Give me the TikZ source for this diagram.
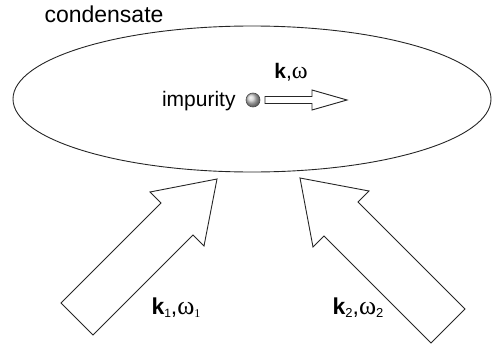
\documentclass[tikz,border=0pt]{standalone}
\usepackage{fontspec}
\setmainfont{Liberation Sans}
\newfontfamily\grfont{Liberation Serif}
\newcommand{\om}{{\grfont ω}}
\begin{document}
\begin{tikzpicture}[
    x=0.5pt,y=-0.5pt,
    line width=0.45pt,
    txt/.style={font=\fontsize{10.5}{12}\selectfont,inner sep=0pt},
    bigtxt/.style={font=\fontsize{11.5}{13}\selectfont,inner sep=0pt},
    blockarrow/.style={draw=black!85,fill=white,line join=miter},
    ball/.style={circle,draw=gray!60!black,line width=0.3pt,shading=ball,ball color=gray!40,minimum size=7pt,inner sep=0pt}
]
\useasboundingbox (0,0) rectangle (492,348);
% Condensate
\node[bigtxt] (cond) at (104,14) {condensate};
\draw[black!85] (252,99) ellipse [x radius=239,y radius=73];

% Impurity and its motion
\node[ball] (imp) at (253,100) {};
\node[txt,anchor=base east] (implbl) at (236,106) {impurity};
\coordinate (tail0) at (265,100);
\draw[blockarrow] (tail0) ++(0,-3.5) -- (312,96.5) -- (312,90) -- (347,100)
    -- (312,110) -- (312,103.5) -- ++(-47,0) -- cycle;
\node[txt,anchor=base] (kw) at (291,78) {\textbf{k},{\fontsize{12}{12}\selectfont\om}};

% Incoming beams
\draw[blockarrow] (61,303) -- (161,203) -- (150,192) -- (217,179)
    -- (204,246) -- (193,235) -- (93,335) -- cycle;
\draw[blockarrow] (465,309) -- (358,202) -- (369,191) -- (300,178)
    -- (313,247) -- (324,236) -- (431,343) -- cycle;
\node[bigtxt,anchor=base] (kw1) at (176,314) {\textbf{k}\raisebox{-1.5pt}{\fontsize{6}{6}\selectfont 1},{\fontsize{13}{13}\selectfont\om}\raisebox{-1.5pt}{\fontsize{6}{6}\selectfont\grfont 1}};
\node[bigtxt,anchor=base] (kw2) at (358,314) {\textbf{k}\raisebox{-1.5pt}{\fontsize{6.5}{6}\selectfont 2},{\fontsize{13}{13}\selectfont\om}\raisebox{-1.5pt}{\fontsize{6.5}{6}\selectfont 2}};
\end{tikzpicture}
\end{document}
